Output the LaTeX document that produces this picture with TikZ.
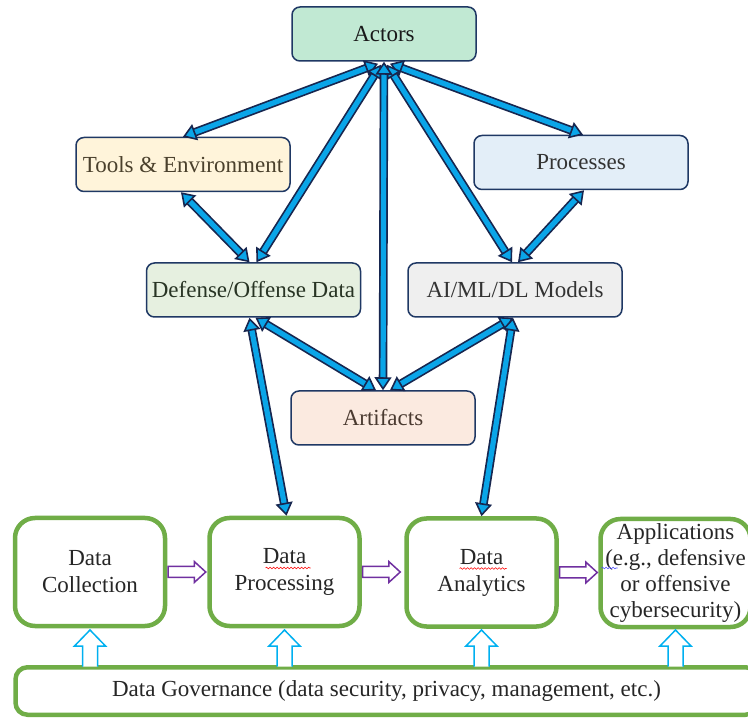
\documentclass[tikz,border=0pt]{standalone}
\usepackage{fontspec}
\setmainfont{Liberation Serif}
\usetikzlibrary{arrows.meta,calc,decorations.pathmorphing}
\definecolor{navy}{HTML}{17264F}
\definecolor{arrblue}{HTML}{0AA5E8}
\definecolor{gbox}{HTML}{70AD47}
\definecolor{purp}{HTML}{7030A0}
\definecolor{cyanarr}{HTML}{00B0F0}
\definecolor{fact}{HTML}{C1E9D3}
\definecolor{ftool}{HTML}{FFF4DA}
\definecolor{fproc}{HTML}{E3EEF8}
\definecolor{fdef}{HTML}{E6F0E0}
\definecolor{fai}{HTML}{EFEFEF}
\definecolor{fart}{HTML}{FBEAE0}
\definecolor{bordtop}{HTML}{1F3864}
\tikzset{
  topbox/.style={draw=bordtop, line width=1.5pt, rounded corners=8pt,
    minimum width=214pt, minimum height=54pt, inner sep=0pt,
    font=\fontsize{23}{27}\selectfont},
  greenbox/.style={draw=gbox, line width=4.5pt, rounded corners=20pt,
    minimum width=150pt, minimum height=108pt, inner sep=0pt, align=center,
    font=\fontsize{23}{27}\selectfont, text=black!85},
  bhead/.tip={Triangle[length=13pt,width=17pt,fill=arrblue,color=navy,line width=1.6pt]},
  barrow/.style={draw=arrblue, line width=5.2pt, bhead-bhead,
    preaction={draw=navy, line width=8.6pt, -, shorten <=9pt, shorten >=9pt}},
  squig/.style={decorate, decoration={snake, amplitude=0.8pt, segment length=3.5pt}, line width=0.6pt},
  uparr/.pic={\draw[cyanarr, line width=1.5pt, fill=white, line join=miter]
    (-7.5,1.5) -- (-7.5,-19) -- (-15.5,-19) -- (0,-35) -- (15.5,-19) -- (7.5,-19) -- (7.5,1.5);},
  rarr/.pic={\draw[purp, line width=1.5pt, fill=white, line join=miter]
    (0.8,-5.5) -- (27,-5.5) -- (27,-10.5) -- (38.5,0) -- (27,10.5) -- (27,5.5) -- (0.8,5.5) -- cycle;}
}
\begin{document}
\begin{tikzpicture}[x=1pt,y=-1pt]
\fill[white] (0,0) rectangle (748,719);
\useasboundingbox (0,0) rectangle (748,719);

% top boxes
\node[topbox, fill=fact, minimum width=184pt, text=black!90] (act) at (384,34) {Actors};
\node[topbox, fill=ftool, text={rgb,255:red,74;green,64;blue,44}] (tools) at (183,164.5) {Tools \& Environment};
\node[topbox, fill=fproc, text=black!80] (proc) at (581,162.5) {Processes};
\node[topbox, fill=fdef, text={rgb,255:red,40;green,52;blue,36}] (def) at (253.5,290) {Defense/Offense Data};
\node[topbox, fill=fai, text=black!80] (ai) at (515,290) {AI/ML/DL Models};
\node[topbox, fill=fart, minimum width=184pt, text={rgb,255:red,74;green,58;blue,48}] (art) at (383,418) {Artifacts};

% bottom boxes
\node[greenbox] (dc) at (90,572) {Data\\Collection};
\node[greenbox] (dp) at (284.5,572) {Data\\Processing};
\node[greenbox] (da) at (481.5,572.5) {Data\\Analytics};
\node[greenbox, font=\fontsize{23}{26}\selectfont] (app) at (675.5,573) {Applications\\(e.g., defensive\\or offensive\\cybersecurity)};
\node[greenbox, rounded corners=12pt, minimum width=742pt, minimum height=47.5pt] (gov) at (386.5,691)
  {Data Governance (data security, privacy, management, etc.)};

% spell-check marks
\draw[squig, red] ($(dp.center)+(-19,-4)$) -- ++(45,0);
\draw[squig, red] ($(da.center)+(-22,-4)$) -- ++(47,0);
\draw[squig, blue!70] ($(app.center)+(-74,-5)$) -- ++(16,0);

% blue double arrows
\draw[barrow] ([xshift=-6pt,yshift=-2pt]act.south) -- (tools.north);
\draw[barrow] ([xshift=6pt,yshift=-2pt]act.south) -- ([xshift=2pt]proc.north);
\draw[barrow] ([xshift=-3pt,yshift=-3pt]act.south) -- ([xshift=3pt]def.north);
\draw[barrow] ([xshift=3pt,yshift=-3pt]act.south) -- ([xshift=-3pt]ai.north);
\draw[barrow] (act.south) -- (art.north);
\draw[barrow] ([xshift=-2pt]tools.south) -- ([xshift=-4pt]def.north);
\draw[barrow] ([xshift=3pt]proc.south) -- ([xshift=3pt]ai.north);
\draw[barrow] ([xshift=2pt]def.south) -- ([xshift=-7pt]art.north);
\draw[barrow] ([xshift=-2pt]ai.south) -- ([xshift=7pt]art.north);
\draw[barrow] ([xshift=-4pt]def.south) -- ([xshift=2pt]dp.north);
\draw[barrow] ([xshift=-2pt]ai.south) -- (da.north);

% hollow flow arrows
\pic at (dc.east) {rarr};
\pic at (dp.east) {rarr};
\pic at (da.east) {rarr};
\pic at (dc.south |- gov.north) {uparr};
\pic at (dp.south |- gov.north) {uparr};
\pic at (da.south |- gov.north) {uparr};
\pic at (app.south |- gov.north) {uparr};
\end{tikzpicture}
\end{document}
